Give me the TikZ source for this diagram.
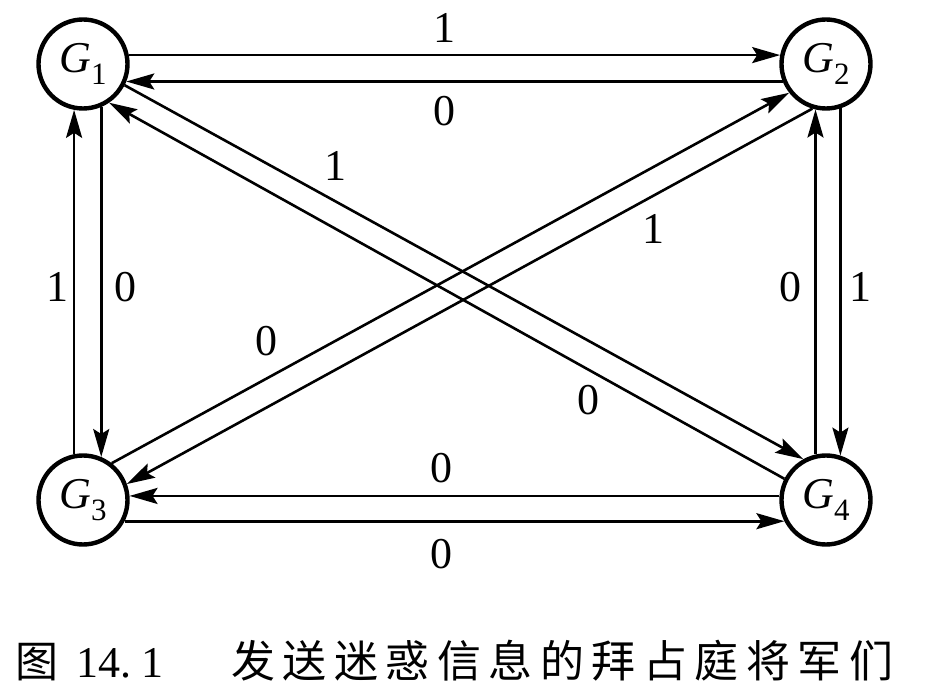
\documentclass[tikz,border=0pt]{standalone}
\usepackage{fontspec}
\setmainfont{Liberation Serif}
\newfontfamily\cjk{Noto Sans CJK SC}
\usetikzlibrary{arrows.meta}
\newcommand\cjkgap{\hspace{7.5pt}}
\begin{document}
\begin{tikzpicture}[x=1pt,y=-1pt,
  gen/.style={circle,draw,line width=4.4pt,minimum size=89pt,inner sep=0pt,font=\fontsize{44}{44}\selectfont},
  msg/.style={line width=2.6pt,-{Stealth[length=28pt,width=16pt,inset=5pt]}},
  lbl/.style={inner sep=0pt,font=\fontsize{44}{44}\selectfont}]
\useasboundingbox (0,0) rectangle (946,700);
\node[gen] (G1) at (83,64)  {\textit{G}\raisebox{-0.28em}{\fontsize{31}{31}\selectfont 1}};
\node[gen] (G2) at (826,64) {\textit{G}\raisebox{-0.28em}{\fontsize{31}{31}\selectfont 2}};
\node[gen] (G3) at (83,500) {\textit{G}\raisebox{-0.28em}{\fontsize{31}{31}\selectfont 3}};
\node[gen] (G4) at (826,500){\textit{G}\raisebox{-0.28em}{\fontsize{31}{31}\selectfont 4}};
% horizontal
\draw[msg] (G1.11) -- (G2.169);
\draw[msg] (G2.202.5) -- (G1.-22.5);
\draw[msg] (G4.175) -- (G3.5);
\draw[msg] (G3.-27) -- (G4.207);
% vertical
\draw[msg] (G3.101) -- (G1.-101);
\draw[msg] (G1.-67.5) -- (G3.67.5);
\draw[msg] (G4.103.5) -- (G2.-103.5);
\draw[msg] (G2.-72.7) -- (G4.72.7);
% diagonals
\draw[msg] (G1.-27.6) -- (G4.119.3);
\draw[msg] (G4.153.4) -- (G1.-56.6);
\draw[msg] (G3.52.6) -- (G2.-142.4);
\draw[msg] (G2.-107.6) -- (G3.20.7);
% labels
\node[lbl] (l1) at (444,28) {1};
\node[lbl] (l2) at (444,111) {0};
\node[lbl] (l3) at (335,166) {1};
\node[lbl] (l4) at (653,229) {1};
\node[lbl] (l5) at (266,341) {0};
\node[lbl] (l6) at (588,400) {0};
\node[lbl] (l7) at (57,287) {1};
\node[lbl] (l8) at (125,287) {0};
\node[lbl] (l9) at (790,287) {0};
\node[lbl] (l10) at (860,287) {1};
\node[lbl] (l11) at (441,468) {0};
\node[lbl] (l12) at (441,554) {0};
% caption
\node[inner sep=0pt,anchor=base west,font=\fontsize{43}{43}\selectfont] (c1) at (15,677) {\cjk 图};
\node[inner sep=0pt,anchor=base west,font=\fontsize{44}{44}\selectfont] (c2) at (76,677) {14.\hspace{10pt}1};
\node[inner sep=0pt,anchor=base west,font=\fontsize{44}{44}\selectfont] (c3) at (231,677) {\cjk 发\cjkgap 送\cjkgap 迷\cjkgap 惑\cjkgap 信\cjkgap 息\cjkgap 的\cjkgap 拜\cjkgap 占\cjkgap 庭\cjkgap 将\cjkgap 军\cjkgap 们};
\end{tikzpicture}
\end{document}
